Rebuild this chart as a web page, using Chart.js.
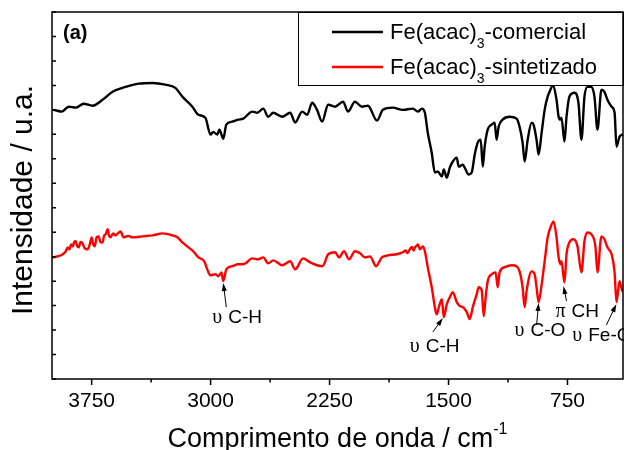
<!DOCTYPE html>
<html>
<head>
<meta charset="utf-8">
<script src="https://cdn.jsdelivr.net/npm/chart.js@4.4.1/dist/chart.umd.min.js"></script>
<style>
  html, body { margin: 0; padding: 0; background: #fff; }
  #wrap { width: 624px; height: 450px; }
</style>
</head>
<body>
<div id="wrap"><canvas id="ftir"></canvas></div>
<script>
// wavenumbers (cm-1) and intensities
const comWn = [
  4000, 3995, 3938, 3895, 3851, 3800, 3744, 3681, 3618, 3536,
  3454, 3366, 3285, 3222, 3178, 3115, 3077, 3033, 3001, 2983,
  2958, 2945, 2920, 2901, 2864, 2825, 2794, 2737, 2706, 2668,
  2637, 2605, 2549, 2498, 2467, 2423, 2391, 2360, 2329, 2297,
  2259, 2215, 2165, 2134, 2090, 2046, 2008, 1951, 1914, 1851,
  1788, 1725, 1693, 1668, 1649, 1631, 1606, 1586, 1568, 1542,
  1530, 1511, 1492, 1473, 1448, 1436, 1410, 1398, 1373, 1354,
  1335, 1316, 1297, 1284, 1272, 1253, 1228, 1209, 1197, 1184,
  1159, 1115, 1071, 1052, 1033, 1020, 1001, 976, 964, 945,
  932, 913, 894, 875, 850, 844, 819, 806, 794, 788,
  769, 756, 738, 706, 681, 662, 643, 624, 599, 580,
  561, 536, 517, 498, 472, 453, 441, 422, 403, 400
];
const comVal = [
  11.0, 11.0, 10.93, 11.13, 11.09, 11.25, 11.17, 11.41, 11.74, 11.94,
  12.07, 12.1, 12.03, 11.9, 11.54, 11.13, 10.8, 10.68, 9.99, 10.1,
  9.99, 10.19, 9.82, 10.4, 10.52, 10.6, 10.64, 10.93, 10.88, 11.05,
  10.72, 10.88, 10.72, 10.88, 10.48, 10.93, 10.8, 11.29, 11.0, 10.52,
  11.21, 11.13, 11.33, 10.93, 11.33, 11.13, 11.17, 10.56, 11.0, 11.09,
  11.0, 11.05, 10.93, 11.05, 10.88, 10.07, 9.25, 8.44, 8.48, 8.28,
  8.56, 8.23, 8.64, 8.89, 9.05, 8.68, 8.76, 8.64, 8.36, 8.44,
  9.17, 9.66, 9.78, 8.68, 9.5, 10.19, 10.4, 10.48, 9.78, 10.31,
  10.6, 10.72, 10.64, 10.31, 9.66, 8.89, 9.78, 10.48, 10.4, 9.78,
  9.17, 10.07, 11.0, 11.54, 11.94, 12.05, 11.41, 10.72, 10.6, 10.68,
  9.7, 10.72, 11.54, 11.7, 11.29, 9.78, 11.54, 11.94, 11.94, 11.54,
  10.19, 11.82, 11.74, 11.41, 11.13, 10.88, 9.5, 9.9, 9.99, 10.0
];
const synWn = [
  4000, 3995, 3960, 3932, 3915, 3901, 3890, 3880, 3869, 3860,
  3851, 3842, 3832, 3820, 3807, 3795, 3775, 3762, 3750, 3740,
  3731, 3718, 3706, 3695, 3681, 3672, 3662, 3649, 3640, 3631,
  3615, 3599, 3585, 3568, 3549, 3520, 3492, 3429, 3366, 3303,
  3241, 3209, 3178, 3140, 3109, 3077, 3040, 3021, 3002, 2970,
  2951, 2932, 2920, 2901, 2864, 2825, 2788, 2737, 2700, 2668,
  2637, 2605, 2549, 2498, 2467, 2417, 2373, 2297, 2285, 2259,
  2215, 2190, 2159, 2127, 2090, 2058, 2027, 1995, 1957, 1920,
  1882, 1826, 1800, 1788, 1770, 1760, 1744, 1730, 1720, 1712,
  1700, 1693, 1680, 1668, 1662, 1649, 1631, 1606, 1580, 1574,
  1561, 1542, 1530, 1511, 1492, 1473, 1448, 1429, 1410, 1385,
  1366, 1347, 1322, 1310, 1291, 1278, 1266, 1253, 1228, 1203,
  1190, 1178, 1146, 1102, 1071, 1052, 1033, 1020, 1008, 976,
  957, 945, 932, 913, 894, 875, 850, 838, 819, 806,
  794, 788, 769, 756, 738, 712, 687, 662, 643, 624,
  599, 574, 561, 536, 517, 498, 472, 453, 441, 422,
  403, 400
];
const synVal = [
  4.97, 4.97, 5.02, 5.1, 5.2, 5.38, 5.3, 5.5, 5.42, 5.6,
  5.63, 5.45, 5.38, 5.6, 5.54, 5.35, 5.3, 5.5, 5.79, 5.5,
  5.42, 5.8, 5.83, 5.6, 5.58, 5.85, 5.91, 6.12, 5.85, 5.79,
  5.95, 5.87, 5.95, 6.03, 5.79, 5.85, 5.79, 5.83, 5.87, 5.95,
  5.87, 5.79, 5.58, 5.38, 5.22, 4.97, 4.81, 4.48, 4.24, 4.28,
  4.2, 4.36, 4.0, 4.48, 4.61, 4.69, 4.7, 4.93, 4.89, 4.97,
  4.73, 4.85, 4.65, 4.81, 4.48, 4.93, 4.77, 4.61, 4.69, 5.1,
  5.18, 4.97, 5.22, 4.89, 5.22, 5.14, 4.97, 5.01, 4.61, 4.97,
  5.05, 5.1, 5.15, 5.18, 5.25, 5.15, 5.3, 5.4, 5.25, 5.38,
  5.45, 5.5, 5.3, 5.38, 5.42, 5.22, 4.57, 3.75, 2.73, 2.65,
  2.94, 3.26, 2.53, 3.06, 3.34, 3.55, 3.14, 2.98, 2.94, 2.73,
  2.45, 2.94, 3.47, 3.75, 3.63, 2.57, 3.34, 4.0, 4.28, 4.36,
  3.75, 4.36, 4.57, 4.65, 4.61, 4.4, 3.75, 2.94, 3.59, 4.4,
  4.28, 3.75, 3.14, 3.87, 4.81, 5.79, 6.32, 6.44, 5.79, 4.97,
  4.69, 4.81, 3.95, 5.1, 5.58, 5.71, 5.42, 4.36, 5.63, 5.99,
  5.91, 5.42, 4.36, 5.83, 5.71, 5.38, 5.1, 4.36, 3.14, 4.0,
  3.59, 3.6
];
const seriesNames = ['Fe(acac)3-comercial', 'Fe(acac)3-sintetizado'];
const seriesColors = ['#000000', '#ff0000'];

// assigned bands on the red spectrum
const bandSymbols = ['\u03c5', '\u03c5', '\u03c5', '\u03c0', '\u03c5'];
const bandNames = ['C-H', 'C-H', 'C-O', 'CH', 'Fe-O'];
const bandWn = [2920, 1536, 932, 775, 442];
const bandVal = [3.92, 2.49, 3.11, 3.8, 3.06];

// arrow tail / text offsets in px from the arrow tip
const bandLayout = [
  { tail: [3, 24], text: [-11, 40] },
  { tail: [-10, 14], text: [-33, 34] },
  { tail: [-2, 22], text: [-24, 33] },
  { tail: [3, 15], text: [-8, 31] },
  { tail: [-10, 21], text: [-44, 37] },
];

const SANS = '"Liberation Sans", Arial, sans-serif';

const toPoints = (xs, ys) => xs.map((x, i) => ({ x: x, y: ys[i] }));

// text with the "3" of Fe(acac)3 as subscript
function drawFormula(ctx, text, x, y, size) {
  const i = text.indexOf(')3') + 1;
  const parts = [text.slice(0, i), text.slice(i, i + 1), text.slice(i + 1)];
  ctx.font = size + 'px ' + SANS;
  ctx.fillText(parts[0], x, y);
  x += ctx.measureText(parts[0]).width;
  ctx.font = Math.round(size * 0.62) + 'px ' + SANS;
  ctx.fillText(parts[1], x, y + size * 0.42);
  x += ctx.measureText(parts[1]).width;
  ctx.font = size + 'px ' + SANS;
  ctx.fillText(parts[2], x, y);
}

const legendBox = {
  id: 'legendBox',
  afterDatasetsDraw(chart) {
    const { ctx, chartArea: a } = chart;
    const left = a.right - 325, top = a.top, bottom = a.top + 73;
    ctx.save();
    ctx.fillStyle = '#fff';
    ctx.fillRect(left, top, a.right - left, bottom - top);
    ctx.strokeStyle = '#000';
    ctx.lineWidth = 1;
    ctx.strokeRect(left + 0.5, top + 0.5, a.right - left, bottom - top);
    chart.data.datasets.forEach((ds, i) => {
      const ly = top + 20 + i * 35;
      ctx.strokeStyle = ds.borderColor;
      ctx.lineWidth = 2.4;
      ctx.beginPath();
      ctx.moveTo(left + 34, ly);
      ctx.lineTo(left + 85, ly);
      ctx.stroke();
      ctx.fillStyle = '#000';
      ctx.textBaseline = 'alphabetic';
      drawFormula(ctx, ds.label, left + 92, ly + 7, 22);
    });
    ctx.restore();
  }
};

const bands = {
  id: 'bands',
  afterDatasetsDraw(chart) {
    const { ctx, scales: { x, y } } = chart;
    ctx.save();
    ctx.strokeStyle = '#000';
    ctx.fillStyle = '#000';
    ctx.lineWidth = 1;
    bandWn.forEach((wn, i) => {
      const tx = x.getPixelForValue(wn), ty = y.getPixelForValue(bandVal[i]);
      const L = bandLayout[i];
      const sx = tx + L.tail[0], sy = ty + L.tail[1];
      const ang = Math.atan2(ty - sy, tx - sx);
      ctx.beginPath();
      ctx.moveTo(sx, sy);
      ctx.lineTo(tx - 6 * Math.cos(ang), ty - 6 * Math.sin(ang));
      ctx.stroke();
      ctx.beginPath();
      ctx.moveTo(tx, ty);
      ctx.lineTo(tx - 8 * Math.cos(ang) + 2.5 * Math.sin(ang), ty - 8 * Math.sin(ang) - 2.5 * Math.cos(ang));
      ctx.lineTo(tx - 8 * Math.cos(ang) - 2.5 * Math.sin(ang), ty - 8 * Math.sin(ang) + 2.5 * Math.cos(ang));
      ctx.closePath();
      ctx.fill();
      let px = tx + L.text[0];
      const py = ty + L.text[1];
      ctx.textBaseline = 'alphabetic';
      ctx.font = '20px "Liberation Serif", "Times New Roman", serif';
      ctx.fillText(bandSymbols[i], px, py);
      px += ctx.measureText(bandSymbols[i] + ' ').width + 1;
      ctx.font = '19px ' + SANS;
      ctx.fillText(bandNames[i], px, py);
    });
    ctx.restore();
  }
};

const frame = {
  id: 'frame',
  afterDraw(chart) {
    const { ctx, chartArea: a, scales: { x, y } } = chart;
    ctx.save();
    ctx.strokeStyle = '#000';
    ctx.lineWidth = 1.5;
    ctx.strokeRect(a.left, a.top, a.right - a.left, a.bottom - a.top);
    ctx.beginPath();
    x.ticks.forEach(t => {
      const px = x.getPixelForValue(t.value);
      ctx.moveTo(px, a.bottom);
      ctx.lineTo(px, a.bottom + (t.value % 750 === 0 ? 6 : 3.5));
    });
    y.ticks.forEach(t => {
      const py = y.getPixelForValue(t.value);
      ctx.moveTo(a.left, py);
      ctx.lineTo(a.left + 4, py);
    });
    ctx.stroke();

    ctx.fillStyle = '#000';
    ctx.font = 'bold 20px ' + SANS;
    ctx.textAlign = 'left';
    ctx.textBaseline = 'alphabetic';
    ctx.fillText('(a)', a.left + 11, a.top + 27);

    // x title with superscript
    const main = 'Comprimento de onda / cm', sup = '-1';
    ctx.font = '27px ' + SANS;
    const w1 = ctx.measureText(main).width;
    ctx.font = '16px ' + SANS;
    const w2 = ctx.measureText(sup).width;
    let tx = (a.left + a.right) / 2 - (w1 + w2) / 2;
    ctx.font = '27px ' + SANS;
    ctx.fillText(main, tx, 447);
    ctx.font = '16px ' + SANS;
    ctx.fillText(sup, tx + w1, 434);

    // y title
    ctx.translate(24, 200);
    ctx.rotate(-Math.PI / 2);
    ctx.font = '30px ' + SANS;
    ctx.textAlign = 'center';
    ctx.textBaseline = 'middle';
    ctx.fillText('Intensidade / u.a.', 0, 0);
    ctx.restore();
  }
};

new Chart(document.getElementById('ftir'), {
  type: 'line',
  data: {
    datasets: [
      { label: seriesNames[0], data: toPoints(comWn, comVal), borderColor: seriesColors[0] },
      { label: seriesNames[1], data: toPoints(synWn, synVal), borderColor: seriesColors[1] },
    ],
  },
  options: {
    responsive: true,
    maintainAspectRatio: false,
    animation: false,
    layout: { padding: { top: 12, right: 1, left: 0, bottom: 0 } },
    elements: {
      point: { radius: 0 },
      line: { borderWidth: 2.4, cubicInterpolationMode: 'monotone' },
    },
    plugins: { legend: { display: false }, tooltip: { enabled: false } },
    scales: {
      x: {
        type: 'linear',
        reverse: true,
        min: 400,
        max: 4000,
        afterFit: (s) => { s.height = 71; },
        grid: { display: false, drawTicks: false },
        border: { display: false },
        ticks: {
          stepSize: 375,
          includeBounds: false,
          autoSkip: false,
          maxRotation: 0,
          padding: 10,
          color: '#000',
          font: { family: SANS, size: 21 },
          callback: (v) => (v % 750 === 0 ? v : ''),
        },
      },
      y: {
        min: 0,
        max: 15,
        afterFit: (s) => { s.width = 52; },
        grid: { display: false, drawTicks: false },
        border: { display: false },
        ticks: { stepSize: 1, display: false },
      },
    },
  },
  plugins: [legendBox, bands, frame],
});
</script>
</body>
</html>
